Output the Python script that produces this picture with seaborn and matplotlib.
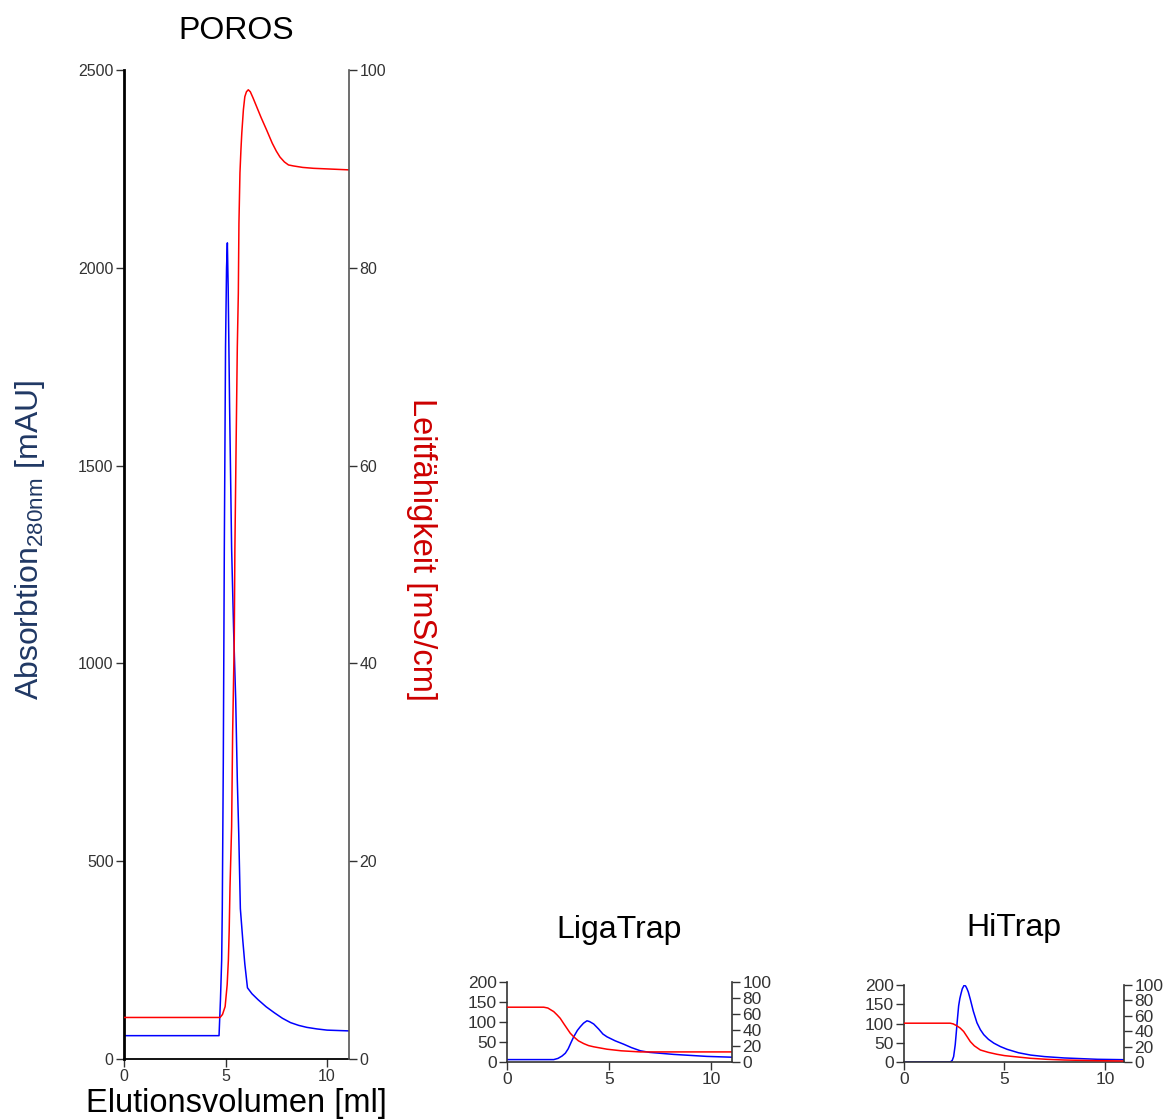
import matplotlib
matplotlib.use("Agg")
import matplotlib.pyplot as plt
import seaborn as sns
import pandas as pd

sns.set_theme(style="ticks")
plt.rcParams["font.family"] = ["Liberation Sans", "DejaVu Sans"]
plt.rcParams["mathtext.default"] = "regular"

# ---------------- data ----------------
titles = ["POROS", "LigaTrap", "HiTrap"]

poros_abs_x = [0, 4.68, 4.75, 4.81, 4.84, 4.89, 4.94, 5.0, 5.05, 5.09, 5.13, 5.2, 5.3, 5.4, 5.5,
               5.58, 5.65, 5.73, 5.85, 5.95, 6.08, 6.3, 6.6, 7.0, 7.4, 7.8, 8.2, 8.6, 9.0,
               9.5, 10.0, 11.1]
poros_abs_y = [59, 59, 150, 250, 380, 750, 1290, 1800, 2000, 2063, 1950, 1650, 1290, 1080, 910,
               705, 570, 380, 300, 240, 180, 165, 150, 132, 117, 103, 92, 85, 80,
               76, 73, 71]
poros_cond_x = [0, 4.73, 4.85, 4.98, 5.08, 5.14, 5.18, 5.22, 5.30, 5.35, 5.43, 5.46, 5.52, 5.58,
                5.63, 5.66, 5.71, 5.76, 5.80, 5.88, 5.95, 6.03, 6.12, 6.22, 6.35, 6.53, 6.75,
                7.03, 7.3, 7.5, 7.68, 7.9, 8.1, 8.34, 8.8, 9.33, 11.1]
poros_cond_y = [4.2, 4.2, 4.5, 5.3, 7.5, 10, 13, 17.4, 23.5, 33, 42.4, 51.5, 62, 72,
                77.4, 84.5, 89.6, 92, 93.6, 96, 97.3, 97.8, 98, 97.8, 97.2, 96.3, 95.2,
                93.9, 92.6, 91.8, 91.2, 90.7, 90.4, 90.3, 90.15, 90.06, 89.9]

liga_abs_x = [0, 2.29, 2.5, 2.7, 2.86, 3.0, 3.15, 3.27, 3.45, 3.59, 3.75, 3.92, 4.05, 4.25,
              4.5, 4.7, 4.9, 5.3, 5.72, 6.1, 6.54, 7.0, 8.17, 9.8, 11.03]
liga_abs_y = [6, 6, 9, 15, 22, 33, 50, 63, 79, 88, 97, 103, 101, 95,
              82, 70, 63, 53, 44.5, 36, 28, 24, 19, 14, 12]
liga_cond_x = [0, 1.8, 2.0, 2.29, 2.45, 2.61, 2.78, 2.94, 3.1, 3.27, 3.5, 3.76, 4.0, 4.25,
               4.9, 5.6, 6.54, 11.03]
liga_cond_y = [68.5, 68.5, 67.5, 63, 59, 54.6, 48, 42, 36, 31.5, 26.5, 23, 20.5, 19,
               16, 14, 12.6, 12.6]

hi_abs_x = [0, 2.3, 2.4, 2.47, 2.55, 2.6, 2.66, 2.72, 2.78, 2.83, 2.9, 3.0, 3.07, 3.13, 3.2,
            3.3, 3.45, 3.63, 3.8, 3.97, 4.2, 4.47, 4.8, 5.13, 5.7, 6.3, 7.0, 7.97, 9.63, 10.95]
hi_abs_y = [0, 0, 4, 14, 45, 75, 112, 146, 165, 176, 190, 200, 197, 191, 182,
            163, 132, 102, 84, 71, 59, 49, 40, 33, 24, 18, 14, 10.5, 7, 6]
hi_cond_x = [0, 2.3, 2.45, 2.63, 2.8, 2.97, 3.15, 3.3, 3.5, 3.8, 4.2, 4.63, 5.0, 5.47, 6.3,
             7.1, 7.97, 9.63, 10.95]
hi_cond_y = [50.4, 50.4, 49.5, 47, 44, 39.6, 32.5, 26.5, 21, 15.6, 12.5, 10, 8.3, 7, 4.8,
             3.5, 2.6, 1.7, 1.3]

x_ticks = [0, 5, 10]
main_abs_ticks = [0, 500, 1000, 1500, 2000, 2500]
main_cond_ticks = [0, 20, 40, 60, 80, 100]
small_abs_ticks = [0, 50, 100, 150, 200]
small_cond_ticks = [0, 20, 40, 60, 80, 100]

BLUE = "#0000ff"
RED = "#ff0000"
TICKC = "#333333"

fig = plt.figure(figsize=(11.68, 11.2), dpi=100)

def make_panel(rect, xmax, abs_x, abs_y, cond_x, cond_y, abs_max, abs_ticks, title,
               tick_fs, title_pad, main=False):
    ax = fig.add_axes(rect)
    ax2 = ax.twinx()
    sns.lineplot(x=abs_x, y=abs_y, ax=ax, color=BLUE, linewidth=1.1, estimator=None, sort=False)
    sns.lineplot(x=cond_x, y=cond_y, ax=ax2, color=RED, linewidth=1.1, estimator=None, sort=False)
    ax.set_xlim(0, xmax)
    ax.set_ylim(0, abs_max)
    ax2.set_ylim(0, 100)
    ax.set_xticks(x_ticks)
    ax.set_yticks(abs_ticks)
    ax2.set_yticks(main_cond_ticks if main else small_cond_ticks)
    for a in (ax, ax2):
        a.spines["top"].set_visible(False)
    ax.spines["right"].set_visible(False)
    ax2.spines["left"].set_visible(False)
    ax2.spines["bottom"].set_visible(False)
    if main:
        ax.spines["left"].set_color("black")
        ax.spines["left"].set_linewidth(2.0)
        ax.spines["bottom"].set_color("black")
        ax.spines["bottom"].set_linewidth(1.3)
        ax2.spines["right"].set_color("#555555")
        ax2.spines["right"].set_linewidth(1.2)
    else:
        for s in ("left", "bottom"):
            ax.spines[s].set_color(TICKC)
            ax.spines[s].set_linewidth(1.2)
        ax2.spines["right"].set_color(TICKC)
        ax2.spines["right"].set_linewidth(1.2)
    for a in (ax, ax2):
        a.tick_params(axis="both", direction="out", length=5.5, width=1.0, color=TICKC,
                      labelsize=tick_fs, labelcolor=TICKC, pad=2)
    ax.set_xlabel("")
    ax.set_ylabel("")
    ax2.set_ylabel("")
    ax.set_title(title, fontsize=23, color="black", pad=title_pad, y=1.0)
    return ax, ax2

ax, ax2 = make_panel([124/1168, 1 - 1059/1120, 225/1168, 989/1120], 11.08,
                     poros_abs_x, poros_abs_y, poros_cond_x, poros_cond_y,
                     2500, main_abs_ticks, titles[0], 11.5, 22, main=True)

ax.set_xlabel("Elutionsvolumen [ml]", fontsize=23.5, color="black")
ax.xaxis.set_label_coords(0.5, -0.029)
ax.set_ylabel(r"Absorbtion$_{280nm}$ [mAU]", fontsize=23, color="#203864",
              va="center", ha="center")
ax.yaxis.set_label_coords(-0.418, 0.525)
ax2.set_ylabel("Leitfähigkeit [mS/cm]", fontsize=23.5, color="#cc0000",
               rotation=-90, va="center", ha="center")
ax2.yaxis.set_label_coords(1.32, 0.515)

make_panel([507/1168, 1 - 1062/1120, 225/1168, 80/1120], 11.03,
           liga_abs_x, liga_abs_y, liga_cond_x, liga_cond_y,
           200, small_abs_ticks, titles[1], 12.5, 32)

make_panel([904/1168, 1 - 1062/1120, 220/1168, 77/1120], 10.95,
           hi_abs_x, hi_abs_y, hi_cond_x, hi_cond_y,
           200, small_abs_ticks, titles[2], 12.5, 35)

fig.savefig("out.png", dpi=100)
